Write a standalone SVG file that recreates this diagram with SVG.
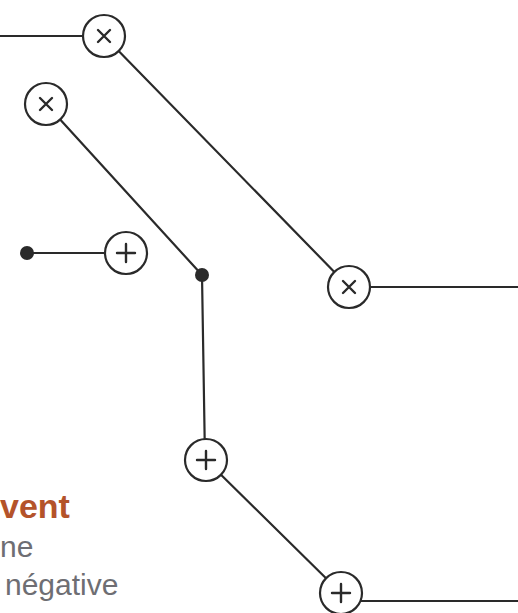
<svg xmlns="http://www.w3.org/2000/svg" width="518" height="613" viewBox="0 0 518 613">
<style>
.e{stroke:#2a2a2a;stroke-width:2.2;fill:none;stroke-linecap:round}
.n{fill:#fff;stroke:#2a2a2a;stroke-width:2.2}
.s{stroke:#2a2a2a;stroke-width:2.4;fill:none;stroke-linecap:round}
.d{fill:#2a2a2a}
.t{font-family:"Liberation Sans",Arial,sans-serif;font-size:30px;fill:#6e6e73}
.h{font-family:"Liberation Sans",Arial,sans-serif;font-size:34px;font-weight:bold;fill:#b4532a}
</style>
<defs>
<g id="times"><circle class="n" r="21"/><path class="s" d="M-6,-6L6,6M6,-6L-6,6"/></g>
<g id="plus"><circle class="n" r="21"/><path class="s" d="M-9,0H9M0,-9V9"/></g>
</defs>
<g id="connectors">
<line class="e" x1="0" y1="36" x2="83" y2="36"/>
<line class="e" x1="104" y1="36" x2="349" y2="287"/>
<line class="e" x1="46" y1="104" x2="202" y2="275"/>
<line class="e" x1="27" y1="253" x2="126" y2="253"/>
<line class="e" x1="202" y1="275" x2="205" y2="460"/>
<line class="e" x1="349" y1="287" x2="518" y2="287"/>
<line class="e" x1="206" y1="460" x2="341" y2="593"/>
<line class="e" x1="341" y1="601" x2="518" y2="601"/>
</g>
<g id="node-x1"><use href="#times" x="104" y="36"/></g>
<g id="node-x2"><use href="#times" x="46" y="104"/></g>
<g id="node-dot1"><circle class="d" cx="27" cy="253" r="7"/></g>
<g id="node-p1"><use href="#plus" x="126" y="253"/></g>
<g id="node-dot2"><circle class="d" cx="202" cy="275" r="7"/></g>
<g id="node-x3"><use href="#times" x="349" y="287"/></g>
<g id="node-p2"><use href="#plus" x="206" y="460"/></g>
<g id="node-p3"><use href="#plus" x="341" y="593"/></g>
<g id="legend">
<text class="h" x="0" y="518">vent</text>
<text class="t" x="0" y="557">ne</text>
<text class="t" x="5" y="595">négative</text>
</g>
</svg>
